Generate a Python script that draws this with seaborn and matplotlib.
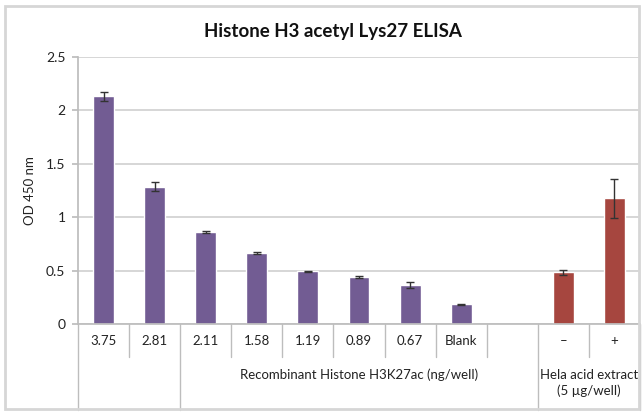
import numpy as np
import pandas as pd
import seaborn as sns
import matplotlib.pyplot as plt
from matplotlib.patches import Rectangle

# data
labels = ['3.75', '2.81', '2.11', '1.58', '1.19', '0.89', '0.67', 'Blank', '', '–', '+']
od_450 = [2.13, 1.285, 0.865, 0.665, 0.495, 0.44, 0.365, 0.185, np.nan, 0.485, 1.175]
od_err = [0.04, 0.04, 0.01, 0.01, 0.005, 0.01, 0.025, 0.005, np.nan, 0.025, 0.18]
sample = ['recombinant'] * 9 + ['hela'] * 2
group_names = ['Recombinant Histone H3K27ac (ng/well)', 'Hela acid extract\n(5 µg/well)']

slots = ['c%d' % i for i in range(len(labels))]
df = pd.DataFrame({'slot': slots, 'od': od_450, 'err': od_err, 'sample': sample})

sns.set_theme(style='white')
plt.rcParams['font.family'] = ['Lato', 'DejaVu Sans']

fig = plt.figure(figsize=(6.43, 4.12), dpi=100)
ax = fig.add_axes([0.1213, 0.2136, 0.8740, 0.6481])

sns.barplot(data=df.dropna(), x='slot', y='od', hue='sample', order=slots,
            palette={'recombinant': '#725c93', 'hela': '#a6463f'},
            dodge=False, width=0.41, legend=False, ax=ax, saturation=1)

ok = df['od'].notna()
ax.errorbar(np.arange(len(slots))[ok], df['od'][ok], yerr=df['err'][ok],
            fmt='none', ecolor='#333333', elinewidth=1, capsize=3, capthick=1)

ax.set_ylim(0, 2.5)
ax.set_yticks([0, 0.5, 1, 1.5, 2, 2.5])
ax.set_yticklabels(['0', '0.5', '1', '1.5', '2', '2.5'], fontsize=10, color='#222222')
ax.set_xlim(-0.5, len(slots) - 0.5)
ax.set_xticks([])
ax.set_xlabel('')
ax.set_ylabel('OD 450 nm', fontsize=9.5, color='#222222', labelpad=7)
ax.yaxis.grid(True, color='#cfcfcf', linewidth=1.2)
ax.set_axisbelow(True)
ax.tick_params(axis='y', which='both', left=True, length=4, color='#bdbdbd', pad=5)
for s in ['top', 'right']:
    ax.spines[s].set_visible(False)
ax.spines['left'].set_color('#bdbdbd')
ax.spines['bottom'].set_color('#bdbdbd')

fig.text(333 / 643, 1 - 32 / 412, 'Histone H3 acetyl Lys27 ELISA', ha='center',
         va='center', fontsize=13.5, fontweight='bold', color='#111111')

# category table under the axis
trans = ax.get_xaxis_transform()
long_lines = [-0.5, 1.5, 8.5, 10.5]
for b in np.arange(-0.5, len(slots), 1.0):
    y_end = -0.322 if b in long_lines else -0.124
    ax.plot([b, b], [0, y_end], color='#bdbdbd', lw=1, transform=trans, clip_on=False)
for i, lab in enumerate(labels):
    ax.text(i, -0.064, lab, transform=trans, ha='center', va='center',
            fontsize=9.5, color='#222222')
ax.text(5.0, -0.168, group_names[0], transform=trans, ha='center', va='top',
        fontsize=9.5, color='#222222')
ax.text(9.5, -0.168, group_names[1], transform=trans, ha='center', va='top',
        fontsize=9.5, color='#222222', linespacing=1.3)

# light frame round the chart
fig.patches.append(Rectangle((5 / 643, 3 / 412), 634 / 643, 403 / 412,
                             transform=fig.transFigure, fill=False,
                             edgecolor='#d6d6d6', linewidth=2))

fig.savefig('out.png', dpi=100)
